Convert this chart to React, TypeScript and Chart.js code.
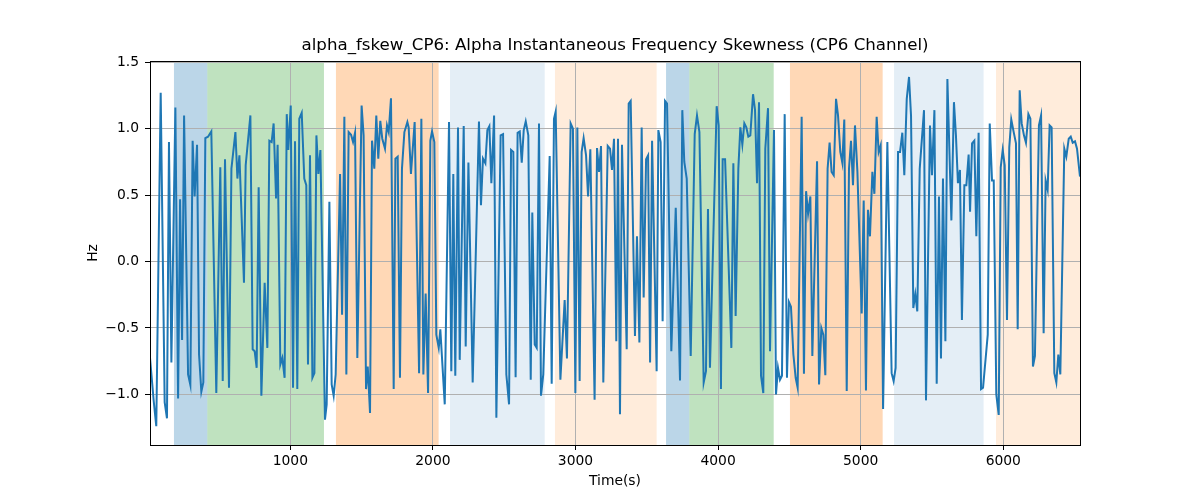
import React, { useEffect, useRef } from "react";
import { Chart, registerables } from "chart.js";

Chart.register(...registerables);

const times: number[] = [
  16, 42, 60, 91, 119, 135, 149, 166, 194, 213, 227, 241, 255, 283, 299, 315, 329, 346, 360, 376,
  390, 404, 423, 446, 481, 509, 526, 542, 570, 587, 615, 629, 643, 675, 687, 720, 736, 750, 764, 778,
  797, 820, 839, 853, 869, 883, 900, 911, 930, 944, 960, 975, 986, 1003, 1019, 1033, 1049, 1063, 1080, 1098,
  1112, 1124, 1138, 1155, 1169, 1183, 1197, 1211, 1243, 1255, 1274, 1290, 1304, 1318, 1349, 1363, 1379, 1393, 1409, 1426,
  1440, 1454, 1470, 1500, 1514, 1531, 1543, 1559, 1573, 1589, 1603, 1617, 1631, 1645, 1664, 1678, 1690, 1706, 1725, 1737,
  1753, 1769, 1783, 1800, 1821, 1830, 1846, 1872, 1903, 1919, 1933, 1949, 1966, 1982, 1994, 2010, 2024, 2041, 2052, 2083,
  2113, 2129, 2143, 2157, 2176, 2188, 2216, 2230, 2249, 2279, 2323, 2337, 2351, 2368, 2382, 2396, 2410, 2429, 2445, 2475,
  2492, 2515, 2534, 2548, 2564, 2580, 2594, 2609, 2623, 2637, 2651, 2669, 2686, 2697, 2714, 2728, 2744, 2758, 2774, 2819,
  2833, 2849, 2861, 2894, 2924, 2940, 2966, 2982, 2999, 3013, 3029, 3043, 3057, 3074, 3088, 3104, 3134, 3151, 3165, 3179,
  3195, 3226, 3242, 3256, 3270, 3286, 3298, 3312, 3326, 3359, 3373, 3387, 3417, 3431, 3448, 3464, 3478, 3495, 3509, 3523,
  3537, 3569, 3581, 3597, 3611, 3628, 3642, 3672, 3703, 3733, 3749, 3763, 3780, 3808, 3836, 3852, 3869, 3899, 3915, 3929,
  3943, 3990, 4004, 4020, 4032, 4049, 4093, 4107, 4123, 4142, 4156, 4170, 4184, 4198, 4212, 4226, 4245, 4259, 4273, 4287,
  4301, 4317, 4331, 4350, 4364, 4392, 4406, 4420, 4434, 4448, 4467, 4483, 4497, 4511, 4528, 4544, 4558, 4586, 4602, 4617,
  4631, 4647, 4661, 4694, 4708, 4724, 4738, 4752, 4768, 4782, 4796, 4811, 4827, 4841, 4857, 4871, 4885, 4902, 4918, 4932,
  4946, 4960, 4977, 5007, 5021, 5037, 5051, 5065, 5082, 5096, 5112, 5126, 5140, 5157, 5187, 5217, 5231, 5245, 5262, 5276,
  5292, 5306, 5323, 5339, 5353, 5369, 5383, 5397, 5414, 5444, 5458, 5486, 5500, 5517, 5533, 5549, 5563, 5577, 5594, 5608,
  5636, 5654, 5668, 5682, 5696, 5710, 5727, 5741, 5757, 5767, 5781, 5797, 5811, 5827, 5844, 5858, 5891, 5905, 5921, 5933,
  5951, 5968, 5982, 5996, 6010, 6026, 6042, 6056, 6073, 6089, 6101, 6115, 6129, 6145, 6159, 6176, 6190, 6208, 6222, 6250,
  6265, 6283, 6297, 6311, 6325, 6339, 6358, 6372, 6386, 6400, 6428, 6442, 6459, 6473, 6487, 6503, 6517, 6538,
];

const values: number[] = [
  -0.725, -1.05, -1.24, 1.27, -1.06, -1.18, 0.9, -0.76, 1.16, -1.03, 0.47, -0.59, 1.1, -0.85, -0.93, 0.91, 0.49, 0.88, -0.7, -0.98,
  -0.91, 0.93, 0.94, 0.98, -0.99, 0.71, -0.9, 0.77, -0.95, 0.7, 0.975, 0.625, 0.8, -0.16, 0.725, 1.1, -0.66, -0.675, -0.8, 0.56,
  -1.01, -0.16, -0.65, 0.91, 0.9, 1.04, 0.475, 0.88, -0.775, -0.725, -0.875, 1.11, 0.84, 1.175, -0.95, 0.905, -0.96, 1.075, 1.12, 0.625,
  0.575, -0.775, 0.8, -0.875, -0.84, 0.95, 0.66, 0.84, -1.19, -1.075, 0.45, -0.925, -1.01, -0.85, 0.66, -0.4, 1.09, -0.85, 0.975, 0.955,
  0.9, 0.97, -0.725, 1.175, 0.95, -0.96, -0.79, -1.14, 0.91, 0.7, 1.1, 0.775, 1.06, 0.925, 0.85, 1.025, 0.975, 1.23, -0.96, 0.775,
  0.79, -0.875, 0.7, 0.975, 1.05, 1.01, 0.66, 1.05, -0.84, 1.075, -0.85, -0.24, -0.99, 0.91, 0.98, 0.9, -0.55, -0.65, -0.51, -1.075,
  1.05, -0.825, 0.66, -0.86, 1.01, -0.74, 1.02, -0.64, 0.745, -0.91, 1.055, 0.425, 0.775, 0.74, 0.99, 1.02, 0.59, 1.1, -1.175, 0.95,
  0.96, -0.85, -1.075, 0.84, 0.825, -0.87, 0.97, 0.98, 0.745, 0.99, 1.055, 0.95, -0.89, 0.37, -0.625, -0.65, 1.04, -1.01, -0.85, 0.795,
  -0.92, 1.075, 1.13, -0.89, -0.29, -0.73, 1.04, 1.0, -0.99, 1.01, -0.9, 0.825, 0.93, 0.8, 0.49, 0.845, -1.04, 0.855, 0.675, 0.87,
  -0.91, 0.87, 0.85, 0.69, 0.925, -0.6, 0.925, -1.15, 0.88, -0.66, 1.19, 1.21, -0.56, 0.19, -0.61, 1.01, -0.27, 0.77, 0.8, -0.76,
  0.91, -0.825, 0.99, 0.9, -0.45, 1.21, 1.19, -0.675, 0.405, -0.895, 1.14, 0.75, 0.625, -0.71, 0.96, 1.1, 0.975, -0.91, -0.825, 0.395,
  -0.8, 1.17, 1.025, -0.96, 0.77, 0.77, -0.65, 0.74, -0.41, 0.7, 1.01, 0.88, 1.04, 1.01, 0.94, 0.95, 1.26, 1.14, 0.59, 1.2,
  -0.86, -0.99, 0.85, 1.155, -0.675, 0.99, -1.0, -0.8, -0.89, -0.86, 1.11, -0.875, -0.305, -0.34, -0.7, -0.875, -0.95, 1.09, -0.845, 0.53,
  0.36, 0.49, -0.71, 0.755, -0.925, -0.5, -0.55, -0.855, 0.7, 0.895, 0.675, 0.65, 1.225, 1.1, 0.825, 0.745, 1.07, -0.975, 0.7, 0.91,
  0.575, 1.025, 0.675, -0.39, 0.46, -0.97, 0.39, 0.19, 0.675, 0.51, 1.09, 0.825, 0.875, -1.11, 0.9, -0.84, -0.9, -0.8, 0.825, 0.825,
  0.97, 0.65, 1.225, 1.39, 1.1, -0.35, -0.245, -0.375, 0.7, 1.14, -1.045, 1.025, 0.65, 1.14, -0.92, 0.49, -0.73, 0.625, -0.6, 1.375,
  0.31, 1.2, 0.95, 0.59, 0.69, -0.44, 0.575, 0.575, 0.805, 0.375, 0.89, 0.91, 0.19, 0.97, -0.96, -0.95, -0.55, 1.04, 0.61, 0.61,
  -1.0, -1.155, 0.71, 0.84, 0.725, -0.44, 0.86, 1.07, 0.975, 0.89, -0.51, 1.29, 1.04, 0.95, 0.895, 1.11, 1.075, -0.79, -0.71, 1.025,
  1.1, -0.54, 0.61, 0.54, 1.025, 1.01, -0.84, -0.91, -0.7, -0.85, 0.85, 0.79, 0.925, 0.94, 0.895, 0.905, 0.85, 0.64,
];

const spanStarts: number[] = [184, 418, 1320, 2120, 2856, 3635, 3798, 4504, 5234, 5949];
const spanEnds: number[] = [418, 1236, 2040, 2784, 3569, 3798, 4390, 5154, 5862, 6600];
const spanColors: string[] = [
  "rgba(31,119,180,0.3)",
  "rgba(44,160,44,0.3)",
  "rgba(255,127,14,0.3)",
  "rgba(31,119,180,0.12)",
  "rgba(255,127,14,0.15)",
  "rgba(31,119,180,0.3)",
  "rgba(44,160,44,0.3)",
  "rgba(255,127,14,0.3)",
  "rgba(31,119,180,0.12)",
  "rgba(255,127,14,0.15)",
];

const xTicks: number[] = [1000, 2000, 3000, 4000, 5000, 6000];
const yTicks: number[] = [-1.0, -0.5, 0.0, 0.5, 1.0, 1.5];

const TITLE = "alpha_fskew_CP6: Alpha Instantaneous Frequency Skewness (CP6 Channel)";
const FONT = "'DejaVu Sans', sans-serif";

const spansPlugin = {
  id: "spans",
  beforeDraw(chart: any) {
    const { ctx, chartArea, scales } = chart;
    const xs = scales.x;
    ctx.save();
    ctx.beginPath();
    ctx.rect(chartArea.left, chartArea.top, chartArea.right - chartArea.left, chartArea.bottom - chartArea.top);
    ctx.clip();
    for (let i = 0; i < spanStarts.length; i++) {
      const x0 = xs.getPixelForValue(spanStarts[i]);
      const x1 = xs.getPixelForValue(spanEnds[i]);
      ctx.fillStyle = spanColors[i];
      ctx.fillRect(x0, chartArea.top, x1 - x0, chartArea.bottom - chartArea.top);
    }
    ctx.restore();
  },
};

const framePlugin = {
  id: "frame",
  afterDraw(chart: any) {
    const { ctx, chartArea } = chart;
    ctx.save();
    ctx.strokeStyle = "#000";
    ctx.lineWidth = 1;
    ctx.strokeRect(
      Math.round(chartArea.left) + 0.5,
      Math.round(chartArea.top) + 0.5,
      Math.round(chartArea.right - chartArea.left),
      Math.round(chartArea.bottom - chartArea.top)
    );
    ctx.restore();
  },
};

const fmtY = (v: number) => {
  const s = Math.abs(v).toFixed(1);
  return v < -1e-9 ? "\u2212" + s : s;
};

export default function App() {
  const canvasRef = useRef<HTMLCanvasElement | null>(null);

  useEffect(() => {
    const canvas = canvasRef.current;
    if (!canvas) return;
    const data = times.map((t, i) => ({ x: t, y: values[i] }));
    const chart = new Chart(canvas, {
      type: "line",
      data: {
        datasets: [
          {
            data,
            borderColor: "#1f77b4",
            borderWidth: 2,
            pointRadius: 0,
            tension: 0,
            fill: false,
          },
        ],
      },
      options: {
        animation: false,
        responsive: false,
        devicePixelRatio: 1,
        parsing: false as any,
        layout: { padding: { left: 0, right: 120, top: 0, bottom: 0 } },
        plugins: {
          legend: { display: false },
          tooltip: { enabled: false },
          title: {
            display: true,
            text: TITLE,
            fullSize: false,
            color: "#000",
            font: { family: FONT, size: 16.67, weight: "normal" as any, lineHeight: 1.2 },
            padding: { top: 36, bottom: 5 },
          },
        },
        scales: {
          x: {
            type: "linear",
            min: 16,
            max: 6538,
            afterFit: (s: any) => {
              s.height = 55;
            },
            afterBuildTicks: (s: any) => {
              s.ticks = xTicks.map((v) => ({ value: v }));
            },
            border: { display: false },
            grid: {
              color: "#b0b0b0",
              lineWidth: 1,
              tickColor: "#000",
              tickLength: 5,
              tickWidth: 1,
            },
            ticks: {
              color: "#000",
              font: { family: FONT, size: 13.89 },
              padding: 3,
              maxRotation: 0,
              autoSkip: false,
              callback: (v: any) => String(v),
            },
            title: {
              display: true,
              text: "Time(s)",
              color: "#000",
              font: { family: FONT, size: 13.89 },
              padding: { top: 0, bottom: 10.7 },
            },
          },
          y: {
            type: "linear",
            min: -1.381,
            max: 1.51,
            afterFit: (s: any) => {
              s.width = 150;
            },
            afterBuildTicks: (s: any) => {
              s.ticks = yTicks.map((v) => ({ value: v }));
            },
            border: { display: false },
            grid: {
              color: "#b0b0b0",
              lineWidth: 1,
              tickColor: "#000",
              tickLength: 5,
              tickWidth: 1,
            },
            ticks: {
              color: "#000",
              font: { family: FONT, size: 13.89 },
              padding: 6,
              autoSkip: false,
              callback: (v: any) => fmtY(Number(v)),
            },
            title: {
              display: true,
              text: "Hz",
              color: "#000",
              font: { family: FONT, size: 13.89 },
              padding: { top: 84.7, bottom: 0 },
            },
          },
        },
      },
      plugins: [spansPlugin, framePlugin],
    });
    return () => chart.destroy();
  }, []);

  return (
    <div style={{ position: "absolute", left: 0, top: 0, width: 1200, height: 500, background: "#fff" }}>
      <canvas ref={canvasRef} width={1200} height={500} style={{ width: 1200, height: 500, display: "block" }} />
    </div>
  );
}
